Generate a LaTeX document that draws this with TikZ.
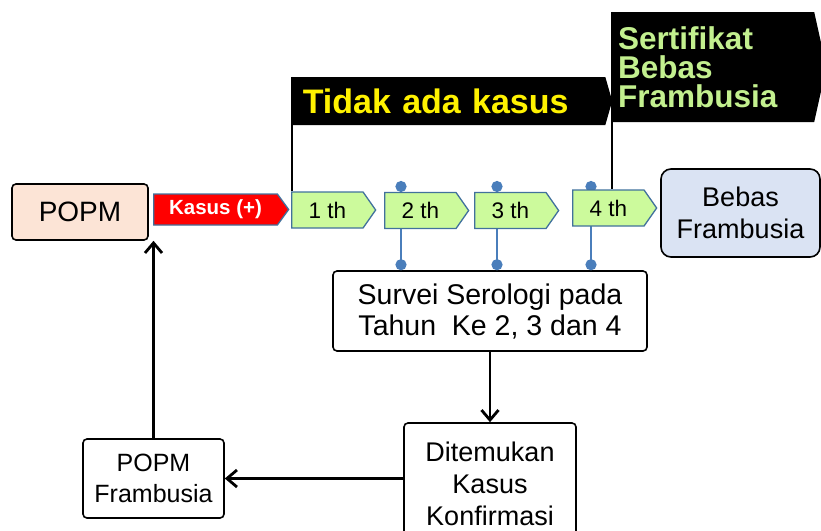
\documentclass[tikz,border=0pt]{standalone}
\usepackage{fontspec}
\setmainfont{Liberation Sans}
\usetikzlibrary{shapes.symbols, arrows.meta, positioning}

\definecolor{popmfill}{HTML}{FCE4D6}
\definecolor{thfill}{HTML}{CCFA9C}
\definecolor{thline}{HTML}{41719C}
\definecolor{pinblue}{HTML}{4A7EBB}
\definecolor{bebasfill}{HTML}{DAE3F3}
\definecolor{sertifgreen}{HTML}{C3F08F}

\begin{document}
\begin{tikzpicture}[x=1pt, y=-1pt,
    box/.style={draw, rounded corners=4pt, line width=1.6pt, align=center, inner sep=0pt},
    tahun/.style={signal, signal to=east, signal pointer angle=110, draw=thline, fill=thfill,
        line width=1.3pt, minimum width=84pt, minimum height=36pt, inner sep=0pt, anchor=west,
        font=\fontsize{22.5}{24}\selectfont},
    flag/.style={signal, signal to=east, fill=black, inner sep=0pt, align=left, anchor=west},
    arrow/.style={line width=2.8pt, -{Straight Barb[length=10pt, width=17pt]}},
    pinline/.style={pinblue, line width=2.8pt, {Circle[length=11pt]}-{Circle[length=11pt]}},
    pole/.style={line width=2.4pt}
    ]

    \useasboundingbox (0,0) rectangle (821,530);

    % kotak utama
    \node (popm) [box, fill=popmfill, minimum width=136pt, minimum height=56pt,
        font=\fontsize{28}{30}\selectfont] at (80,212) {POPM};
    \node (kasus) [signal, signal to=east, signal pointer angle=108, fill=red, draw=thline,
        line width=1.3pt, minimum width=135pt, minimum height=31pt, inner sep=0pt, anchor=west,
        text=white, font=\bfseries\fontsize{20.5}{22}\selectfont] at (153,209.5) {Kasus (+)};
    \node (bebas) [box, rounded corners=10pt, fill=bebasfill, minimum width=159pt, minimum height=88pt,
        font=\fontsize{27}{32}\selectfont] at (740.5,213) {Bebas\\Frambusia};
    \node (survei) [box, minimum width=314pt, minimum height=80pt,
        font=\fontsize{28.5}{31}\selectfont] at (490,311) {Survei Serologi pada\\Tahun\ \ Ke 2, 3 dan 4};
    \node (temu) [box, minimum width=172pt, minimum height=122pt,
        font=\fontsize{27}{32}\selectfont] at (490,484) {Ditemukan\\Kasus\\Konfirmasi};
    \node (popmf) [box, minimum width=141pt, minimum height=79pt,
        font=\fontsize{25}{31}\selectfont] at (153.5,478.5) {POPM\\Frambusia};

    % tiang survei
    \coordinate (p2) at (401,181);
    \coordinate (p3) at (497,181);
    \coordinate (p4) at (591,181);
    \draw [pinline] (p2) -- (p2 |- survei.north);
    \draw [pinline] (p3) -- (p3 |- survei.north);
    \draw [pinline] (p4) -- (p4 |- survei.north);

    % tahun
    \node (th1) [tahun] at (291,210) {1 th};
    \node (th2) [tahun] at (384,210.5) {2 th};
    \node (th3) [tahun] at (474,210.5) {3 th};
    \node (th4) [tahun] at (572,208) {4 th};

    % bendera
    \node (tidak) [flag, signal pointer angle=148, minimum width=320pt, minimum height=48pt,
        text width=300pt, text=yellow, font=\bfseries\fontsize{34}{36}\selectfont] at (292,101)
        {\hspace*{4pt}Tidak ada kasus};
    \node (sertif) [flag, signal pointer angle=155, minimum width=208pt, minimum height=110pt,
        inner xsep=6pt, text width=190pt, text=sertifgreen, font=\bfseries\fontsize{31.5}{29}\selectfont]
        at (612,67) {Sertifikat\\Bebas\\Frambusia};
    \draw [pole] (tidak.north west) -- (tidak.north west |- th1.north);
    \draw [pole] (sertif.north west) -- (sertif.north west |- th4.north);

    \draw [arrow] (survei.south) -- (temu.north);
    \draw [arrow] (temu.west |- popmf.east) -- (popmf.east);
    \draw [arrow] (popmf.north) -- (popmf.north |- popm.south);

\end{tikzpicture}
\end{document}
